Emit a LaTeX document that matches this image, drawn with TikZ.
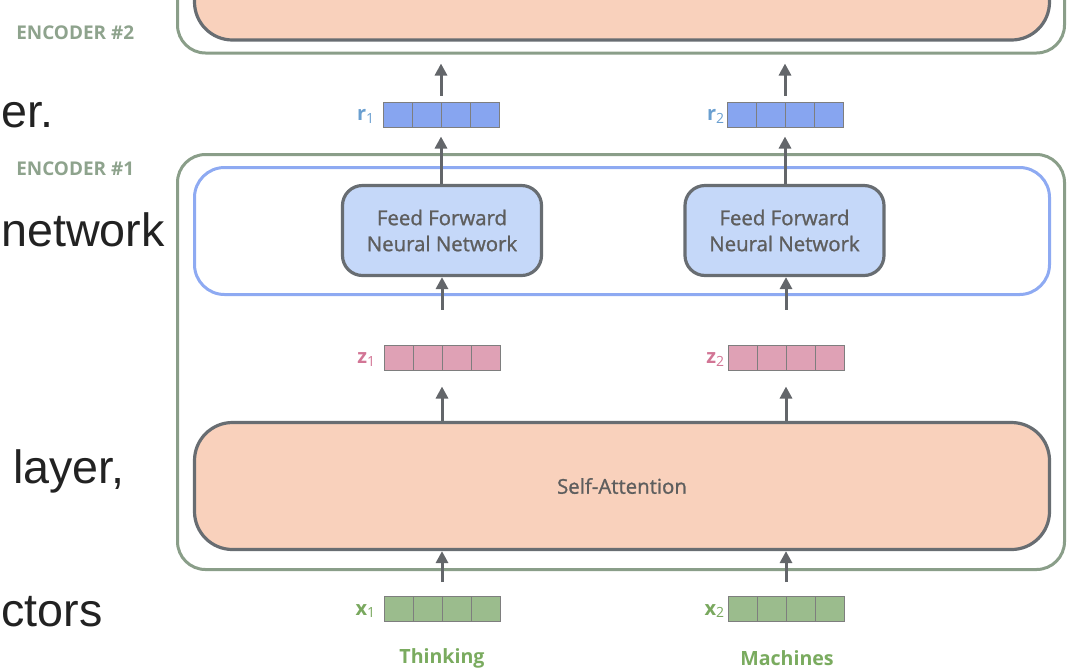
\documentclass[tikz,border=0pt]{standalone}
\usepackage{fontspec}
\setmainfont{Liberation Sans}
\newfontfamily\osans{Open Sans}
\newfontfamily\osanssb[FakeBold=1.2]{Open Sans}
\usetikzlibrary{calc,arrows.meta}
\definecolor{encgreen}{HTML}{8A9E89}
\definecolor{encblue}{HTML}{8EAAF2}
\definecolor{peach}{HTML}{F9D1BC}
\definecolor{boxborder}{HTML}{686D72}
\definecolor{ffnfill}{HTML}{C5D8F9}
\definecolor{rfill}{HTML}{87A5F0}
\definecolor{zfill}{HTML}{DFA1B5}
\definecolor{xfill}{HTML}{9BBC8D}
\definecolor{cellgray}{HTML}{7E7E7E}
\definecolor{rlab}{HTML}{6A9FD0}
\definecolor{zlab}{HTML}{D27595}
\definecolor{xlab}{HTML}{79A85E}
\definecolor{wordgreen}{HTML}{7AAB5F}
\definecolor{txtgray}{HTML}{5E5E5E}
\definecolor{enclab}{HTML}{8EA38D}
\definecolor{arrgray}{HTML}{63666A}
\definecolor{bigtext}{HTML}{222222}
\newcommand{\vsub}[1]{\raisebox{-0.25ex}{\osans\mdseries\fontsize{10.5}{12}\selectfont #1}}
\begin{document}
\begin{tikzpicture}[x=0.75pt,y=-0.75pt,
  outerbox/.style={draw=encgreen, line width=2.25pt, rounded corners=21pt, inner sep=0pt},
  layerbox/.style={draw=encblue, line width=2.25pt, rounded corners=22.5pt, inner sep=0pt},
  sabox/.style={draw=boxborder, fill=peach, line width=2.4pt, rounded corners=28.5pt, inner sep=0pt,
    font=\osanssb\fontsize{15.3}{18}\selectfont, text=txtgray},
  ffnbox/.style={draw=boxborder, fill=ffnfill, line width=2.4pt, rounded corners=15pt, inner sep=0pt,
    minimum width=149.25pt, minimum height=67.5pt, align=center,
    font=\osanssb\fontsize{15.3}{19.5}\selectfont, text=txtgray},
  vec/.style={draw=cellgray, line width=0.75pt, minimum width=87pt, minimum height=18.75pt, inner sep=0pt,
    path picture={\foreach \i in {1,2,3}{\draw[cellgray, line width=0.75pt]
      ($(path picture bounding box.south west)!\i/4!(path picture bounding box.south east)$) --
      ($(path picture bounding box.north west)!\i/4!(path picture bounding box.north east)$);}}},
  veclab/.style={font=\osans\bfseries\fontsize{15}{17}\selectfont, inner sep=0pt, anchor=east},
  word/.style={font=\osans\bfseries\fontsize{14.7}{17}\selectfont, text=wordgreen, inner sep=0pt},
  enclabel/.style={font=\osans\bfseries\fontsize{14.2}{16}\selectfont, text=enclab, inner sep=0pt, anchor=west},
  bigtxt/.style={font=\fontsize{35}{41}\selectfont, text=bigtext, inner sep=0pt, anchor=base east},
  arr/.style={draw=arrgray, line width=2.25pt, -{Triangle[width=9pt, length=9pt]}}
]
\useasboundingbox (0,0) rectangle (1071,669);
\clip (0,0) rectangle (1071,669);

% left-hand cut-off text
\node[bigtxt, anchor=base west] (t1) at (1,127) {er.};
\node[bigtxt] (t2) at (165,246) {network};
\node[bigtxt] (t3) at (125,483) {layer,};
\node[bigtxt, anchor=base west] (t4) at (1,626) {ctors};

% encoder labels
\node[enclabel] (l2) at (16,33) {ENCODER \#2};
\node[enclabel] (l1) at (16,169) {ENCODER \#1};

% encoder #2 (cut off at top)
\node[outerbox, minimum width=665.25pt, minimum height=85.5pt] (e2out) at (621,-4) {};
\node[sabox, minimum width=641.25pt, minimum height=75pt] (e2in) at (622,-10) {};

% encoder #1
\node[outerbox, minimum width=665.25pt, minimum height=311.25pt] (e1out) at (621,362) {};
\node[layerbox, minimum width=641.25pt, minimum height=95.25pt] (ffl) at (622,231) {};
\node[ffnbox] (ffn1) at (442,230.5) {Feed Forward\\Neural Network};
\node[ffnbox] (ffn2) at (784.5,230.5) {Feed Forward\\Neural Network};
\node[sabox, minimum width=641.25pt, minimum height=95.25pt] (sa) at (622,486) {Self-Attention};

% vectors
\node[vec, fill=rfill] (r1) at (441,114.5) {};
\node[vec, fill=rfill] (r2) at (785,114.5) {};
\node[vec, fill=zfill] (z1) at (442,357.5) {};
\node[vec, fill=zfill] (z2) at (786,357.5) {};
\node[vec, fill=xfill] (x1) at (442,609) {};
\node[vec, fill=xfill] (x2) at (786,609) {};

\node[veclab, text=rlab] (r1l) at ($(r1.west)+(-8,2)$) {r\vsub{1}};
\node[veclab, text=rlab] (r2l) at ($(r2.west)+(-2,2)$) {r\vsub{2}};
\node[veclab, text=zlab] (z1l) at ($(z1.west)+(-8,2)$) {z\vsub{1}};
\node[veclab, text=zlab] (z2l) at ($(z2.west)+(-3,2)$) {z\vsub{2}};
\node[veclab, text=xlab] (x1l) at ($(x1.west)+(-8,2)$) {x\vsub{1}};
\node[veclab, text=xlab] (x2l) at ($(x2.west)+(-3,2)$) {x\vsub{2}};

\node[word] (w1) at (442,658) {Thinking};
\node[word] (w2) at (787,658) {Machines};

% arrows
\draw[arr, shorten <=10.5pt] (x1.north) -- (x1.north |- sa.south);
\draw[arr, shorten <=10.5pt] (x2.north) -- (x2.north |- sa.south);
\draw[arr, shorten >=12pt] (z1.south |- sa.north) -- (z1.south);
\draw[arr, shorten >=12pt] (z2.south |- sa.north) -- (z2.south);
\draw[arr, shorten <=26.25pt] (z1.north) -- (z1.north |- ffn1.south);
\draw[arr, shorten <=26.25pt] (z2.north) -- (z2.north |- ffn2.south);
\draw[arr, shorten >=6.75pt] (r1.south |- ffn1.north) -- (r1.south);
\draw[arr, shorten >=6.75pt] (r2.south |- ffn2.north) -- (r2.south);
\draw[arr, shorten <=4.5pt, shorten >=6.75pt] (r1.north) -- (r1.north |- e2out.south);
\draw[arr, shorten <=4.5pt, shorten >=6.75pt] (r2.north) -- (r2.north |- e2out.south);
\end{tikzpicture}
\end{document}
